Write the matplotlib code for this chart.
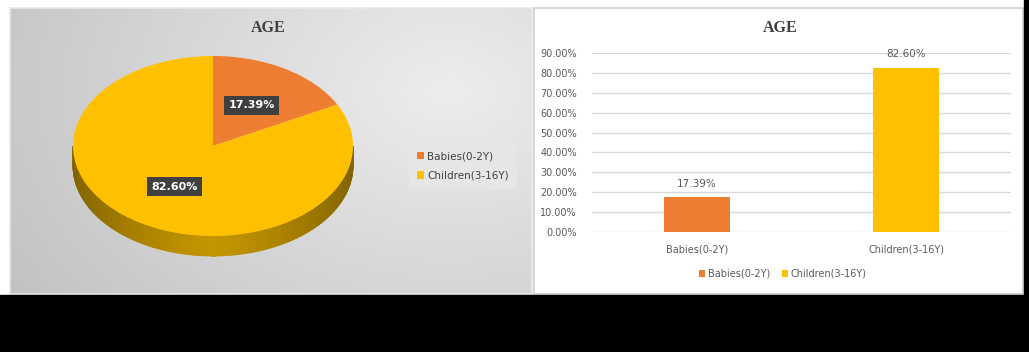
import numpy as np
import matplotlib
matplotlib.use("Agg")
import matplotlib.pyplot as plt
from matplotlib.patches import Rectangle, Polygon

# ---------------- data ----------------
categories = ["Babies(0-2Y)", "Children(3-16Y)"]
shares = [17.39, 82.60]          # percent
bar_values = [0.1739, 0.8260]    # fraction
y_ticks = [0.0, 0.1, 0.2, 0.3, 0.4, 0.5, 0.6, 0.7, 0.8, 0.9]
title = "AGE"
colors = ["#ED7D31", "#FFC000"]

W, H = 1029, 352
fig = plt.figure(figsize=(W / 100, H / 100), dpi=100)
fig.patch.set_facecolor("white")


def rect(x0, y0, x1, y1):
    return [x0 / W, 1 - y1 / H, (x1 - x0) / W, (y1 - y0) / H]


def fp(px, py):
    return (px / W, 1 - py / H)


# ---------------- background / frame ----------------
bg = fig.add_axes([0, 0, 1, 1])
bg.set_xlim(0, W)
bg.set_ylim(H, 0)
bg.axis("off")
bg.add_patch(Rectangle((0, 295), W, H - 295, color="black", zorder=5))
bg.add_patch(Rectangle((1024, 0), W - 1024, 295, color="black", zorder=5))

# left panel gradient
gx = np.linspace(10, 532, 260)
gy = np.linspace(8, 294, 140)
GX, GY = np.meshgrid(gx, gy)
d = np.sqrt(((GX - 450) / 1.0) ** 2 + ((GY - 90) * 1.4) ** 2)
t = np.clip(d / 560, 0, 1)
light = np.array([0.93, 0.93, 0.93])
dark = np.array([0.75, 0.75, 0.75])
img = light[None, None, :] * (1 - t[..., None]) + dark[None, None, :] * t[..., None]
bg.imshow(img, extent=(10, 532, 294, 8), zorder=1, interpolation="bilinear", aspect="auto")
bg.add_patch(Rectangle((10, 8), 522, 286, fill=False, edgecolor="#e8e8e8", lw=1.2, zorder=2))
# right panel
bg.add_patch(Rectangle((534, 8), 489, 286, facecolor="white", edgecolor="#d0d0d0", lw=1.2, zorder=2))
bg.set_xlim(0, W)
bg.set_ylim(H, 0)

# ---------------- pie (3D look) ----------------
cx, cy, a, b, depth = 213, 146, 140, 90, 20
pax = fig.add_axes(rect(10, 8, 532, 294))
pax.patch.set_alpha(0)

dd = depth / b
# side of the pie (front half)
ths = np.linspace(np.pi, 2 * np.pi, 120)
for i in range(len(ths) - 1):
    t0, t1 = ths[i], ths[i + 1]
    tm = 0.5 * (t0 + t1)
    f = abs(np.cos(tm))
    base = np.array([0.76, 0.58, 0.0]) * (1 - 0.33 * f ** 1.5)
    poly = [(np.cos(t0), np.sin(t0)), (np.cos(t1), np.sin(t1)),
            (np.cos(t1), np.sin(t1) - dd), (np.cos(t0), np.sin(t0) - dd)]
    pax.add_patch(Polygon(poly, closed=True, facecolor=base, edgecolor=base, lw=0.6, zorder=1))

wedges, _ = pax.pie(shares, colors=colors, startangle=90, counterclock=False,
                    radius=1, center=(0, 0), wedgeprops=dict(linewidth=0, zorder=2))
for w, v in zip(wedges, shares):
    w.set_zorder(2)
    mid = np.deg2rad(0.5 * (w.theta1 + w.theta2))
    r = 0.53
    pax.text(r * np.cos(mid), r * np.sin(mid), f"{v:.2f}%", ha="center", va="center",
             color="white", fontsize=8, fontweight="bold", zorder=4,
             bbox=dict(boxstyle="square,pad=0.4", facecolor="#3f3f3f", edgecolor="none"))
pax.set_aspect("auto")
pax.set_xlim((10 - cx) / a, (532 - cx) / a)
pax.set_ylim((cy - 294) / b, (cy - 8) / b)
pax.axis("off")

fig.text(*fp(268, 28), title, ha="center", va="center", fontsize=11.5, fontweight="bold",
         family="Liberation Serif", color="#404040")

leg1 = fig.legend(wedges, categories, loc="center", bbox_to_anchor=fp(463, 166),
                  fontsize=7.5, labelcolor="#404040", frameon=True, fancybox=False,
                  facecolor="#e6e6e6", edgecolor="none", framealpha=1,
                  handlelength=0.7, handleheight=0.7, handletextpad=0.3,
                  labelspacing=0.9, borderpad=0.8)

# ---------------- bar chart ----------------
bax = fig.add_axes(rect(592, 53, 1011, 232))
x = np.arange(len(categories))
bars = bax.bar(x, bar_values, width=0.315, color=colors, zorder=3)
bax.set_xlim(-0.5, len(categories) - 0.5)
bax.set_ylim(0, 0.9)
bax.set_yticks(y_ticks)
bax.set_yticklabels([f"{v * 100:.2f}%" for v in y_ticks])
bax.set_xticks(x)
bax.set_xticklabels(categories)
bax.tick_params(length=0, labelsize=7, labelcolor="#595959")
bax.tick_params(axis="y", pad=11)
bax.tick_params(axis="x", pad=9)
bax.grid(axis="y", color="#d9d9d9", lw=1, zorder=0)
for s in bax.spines.values():
    s.set_visible(False)
bax.patch.set_alpha(0)
for bx, v in zip(x, bar_values):
    bax.annotate(f"{v * 100:.2f}%", (bx, v), xytext=(0, 6), textcoords="offset points",
                 ha="center", va="bottom", fontsize=7.5, color="#595959")

fig.text(*fp(780, 28), title, ha="center", va="center", fontsize=11.5, fontweight="bold",
         family="Liberation Serif", color="#404040")

fig.legend(bars, categories, loc="center", bbox_to_anchor=fp(783, 274), ncol=2,
           fontsize=7, labelcolor="#595959", frameon=False,
           handlelength=0.6, handleheight=0.6, handletextpad=0.3, columnspacing=1.2)

fig.savefig("out.png", dpi=100)
